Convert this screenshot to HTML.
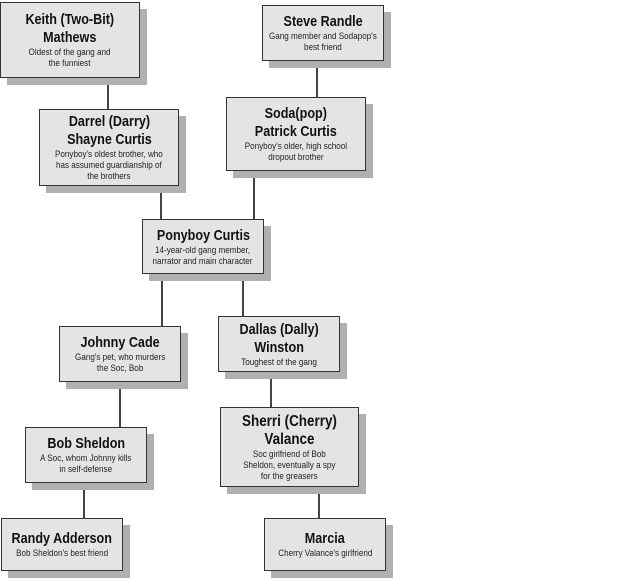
<!DOCTYPE html>
<html><head><meta charset="utf-8"><style>
body{margin:0;width:640px;height:579px;background:#fff;position:relative;overflow:hidden;font-family:"Liberation Sans",sans-serif}
.b{position:absolute;box-sizing:border-box;background:#e4e4e4;border:1.5px solid #333;box-shadow:7px 7px 0 #b0b0b0;text-align:center;display:flex;flex-direction:column;justify-content:center;align-items:center;color:#111}
.t{font-weight:bold;font-size:15px;line-height:18px;display:inline-block;transform:scaleX(0.84);white-space:nowrap}
.d{font-size:9px;line-height:11px;color:#222;display:inline-block;transform:scaleX(0.9);white-space:nowrap}
.l{position:absolute;width:2px;background:#444}
</style></head><body>
<div class="l" style="left:107px;top:77px;height:32px"></div>
<div class="l" style="left:316px;top:60px;height:37px"></div>
<div class="l" style="left:160px;top:185px;height:34px"></div>
<div class="l" style="left:253px;top:170px;height:49px"></div>
<div class="l" style="left:161px;top:273px;height:53px"></div>
<div class="l" style="left:242px;top:273px;height:43px"></div>
<div class="l" style="left:270px;top:371px;height:36px"></div>
<div class="l" style="left:119px;top:381px;height:46px"></div>
<div class="l" style="left:83px;top:482px;height:36px"></div>
<div class="l" style="left:318px;top:486px;height:32px"></div>

<div class="b" style="left:0;top:2px;width:140px;height:76px"><div class="t">Keith (Two-Bit)<br>Mathews</div><div class="d">Oldest of the gang and<br>the funniest</div></div>
<div class="b" style="left:262px;top:5px;width:122px;height:56px"><div class="t">Steve Randle</div><div class="d">Gang member and Sodapop's<br>best friend</div></div>
<div class="b" style="left:39px;top:109px;width:140px;height:77px"><div class="t">Darrel (Darry)<br>Shayne Curtis</div><div class="d">Ponyboy's oldest brother, who<br>has assumed guardianship of<br>the brothers</div></div>
<div class="b" style="left:226px;top:97px;width:140px;height:74px"><div class="t">Soda(pop)<br>Patrick Curtis</div><div class="d">Ponyboy's older, high school<br>dropout brother</div></div>
<div class="b" style="left:142px;top:219px;width:122px;height:55px"><div class="t">Ponyboy Curtis</div><div class="d">14-year-old gang member,<br>narrator and main character</div></div>
<div class="b" style="left:59px;top:326px;width:122px;height:56px"><div class="t">Johnny Cade</div><div class="d">Gang's pet, who murders<br>the Soc, Bob</div></div>
<div class="b" style="left:218px;top:316px;width:122px;height:56px"><div class="t">Dallas (Dally)<br>Winston</div><div class="d">Toughest of the gang</div></div>
<div class="b" style="left:25px;top:427px;width:122px;height:56px"><div class="t">Bob Sheldon</div><div class="d">A Soc, whom Johnny kills<br>in self-defense</div></div>
<div class="b" style="left:220px;top:407px;width:139px;height:80px"><div class="t" style="font-size:16px">Sherri (Cherry)<br>Valance</div><div class="d">Soc girlfriend of Bob<br>Sheldon, eventually a spy<br>for the greasers</div></div>
<div class="b" style="left:1px;top:518px;width:122px;height:53px"><div class="t">Randy Adderson</div><div class="d">Bob Sheldon's best friend</div></div>
<div class="b" style="left:264px;top:518px;width:122px;height:53px"><div class="t">Marcia</div><div class="d">Cherry Valance's girlfriend</div></div>
</body></html>
